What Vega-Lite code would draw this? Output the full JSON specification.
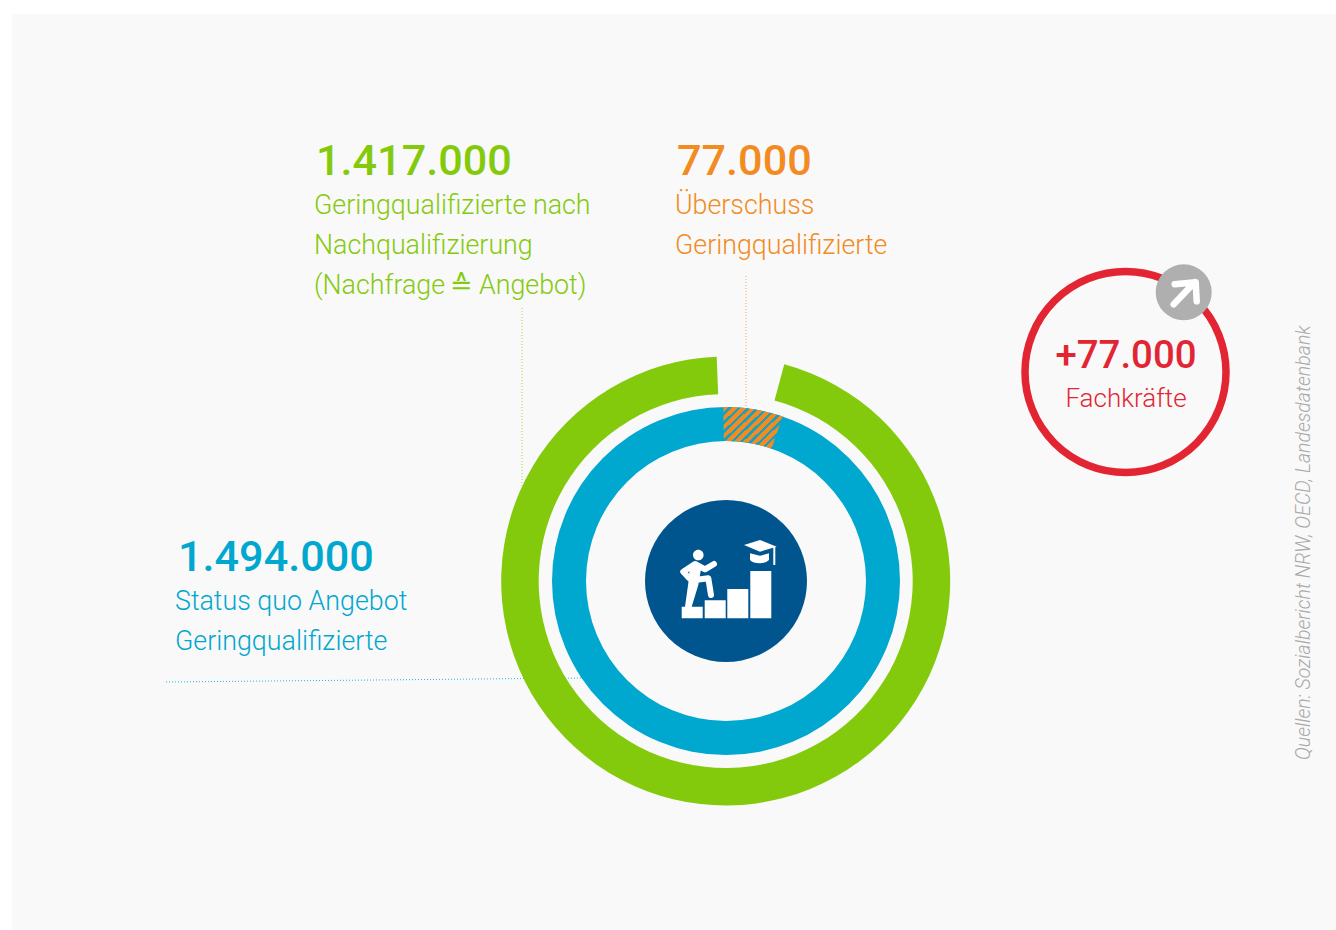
{"$schema":"https://vega.github.io/schema/vega-lite/v6.json","width":1336,"height":930,"padding":0,"autosize":{"type":"fit","contains":"padding"},"background":"#ffffff","config":{"view":{"stroke":null},"axis":{"domain":false}},"resolve":{"scale":{"theta":"independent"}},
"encoding":{"x":{"datum":0,"type":"quantitative","scale":{"domain":[0,1336],"range":[0,1336]},"axis":null},"y":{"datum":0,"type":"quantitative","scale":{"domain":[0,930],"range":[0,930]},"axis":null}},
"layer":[
{"data":{"values":[{"name":"Hintergrund"}]},"mark":{"type":"rect","color":"#f9f9f9"},"encoding":{"x":{"datum":12,"type":"quantitative"},"x2":{"datum":1336},"y":{"datum":14,"type":"quantitative"},"y2":{"datum":930}}},
{"data":{"values":[{"name":"Leitlinie Nachfrage"}]},"mark":{"type":"rule","color":"#9fd64a","strokeWidth":1,"strokeDash":[1,2]},"encoding":{"x":{"datum":522,"type":"quantitative"},"y":{"datum":308,"type":"quantitative"},"y2":{"datum":486}}},
{"data":{"values":[{"name":"Leitlinie Überschuss"}]},"mark":{"type":"rule","color":"#f5a55c","strokeWidth":1,"strokeDash":[1,2]},"encoding":{"x":{"datum":746,"type":"quantitative"},"y":{"datum":276,"type":"quantitative"},"y2":{"datum":406}}},
{"data":{"values":[{"name":"Leitlinie Angebot"}]},"mark":{"type":"rule","color":"#1fb3d8","strokeWidth":1,"strokeDash":[1,2]},"encoding":{"x":{"datum":166,"type":"quantitative"},"x2":{"datum":584},"y":{"datum":682,"type":"quantitative"},"y2":{"datum":678}}},
{"data":{"values":[{"name":"Nachfrage nach Nachqualifizierung","value":1417000}]},"mark":{"type":"arc","color":"#84ca0c","radius":224.5,"radius2":187},"encoding":{"x":{"datum":725.7,"type":"quantitative"},"y":{"datum":581,"type":"quantitative"},"theta":{"field":"value","type":"quantitative","stack":true,"scale":{"domain":[0,1417000],"range":[0.264,6.243]}}}},
{"data":{"values":[{"name":"Status quo Angebot","value":1494000}]},"mark":{"type":"arc","color":"#00a7cf","radius":174,"radius2":140},"encoding":{"x":{"datum":726,"type":"quantitative"},"y":{"datum":581,"type":"quantitative"},"theta":{"field":"value","type":"quantitative","stack":true,"scale":{"domain":[0,1494000],"range":[0,6.2832]}}}},
{"data":{"values":[{"name":"Überschuss","value":77000}]},"mark":{"type":"arc","radius":174,"radius2":140,"color":{"gradient":"linear","x1":0,"y1":0,"x2":1.129,"y2":0.823,"stops":[{"offset":0,"color":"#f28b22"},{"offset":0.056,"color":"#f28b22"},{"offset":0.056,"color":"#1f9fb8"},{"offset":0.0909,"color":"#1f9fb8"},{"offset":0.0909,"color":"#f28b22"},{"offset":0.147,"color":"#f28b22"},{"offset":0.147,"color":"#1f9fb8"},{"offset":0.1818,"color":"#1f9fb8"},{"offset":0.1818,"color":"#f28b22"},{"offset":0.238,"color":"#f28b22"},{"offset":0.238,"color":"#1f9fb8"},{"offset":0.2727,"color":"#1f9fb8"},{"offset":0.2727,"color":"#f28b22"},{"offset":0.329,"color":"#f28b22"},{"offset":0.329,"color":"#1f9fb8"},{"offset":0.3636,"color":"#1f9fb8"},{"offset":0.3636,"color":"#f28b22"},{"offset":0.42,"color":"#f28b22"},{"offset":0.42,"color":"#1f9fb8"},{"offset":0.4545,"color":"#1f9fb8"},{"offset":0.4545,"color":"#f28b22"},{"offset":0.511,"color":"#f28b22"},{"offset":0.511,"color":"#1f9fb8"},{"offset":0.5455,"color":"#1f9fb8"},{"offset":0.5455,"color":"#f28b22"},{"offset":0.602,"color":"#f28b22"},{"offset":0.602,"color":"#1f9fb8"},{"offset":0.6364,"color":"#1f9fb8"},{"offset":0.6364,"color":"#f28b22"},{"offset":0.693,"color":"#f28b22"},{"offset":0.693,"color":"#1f9fb8"},{"offset":0.7273,"color":"#1f9fb8"},{"offset":0.7273,"color":"#f28b22"},{"offset":0.784,"color":"#f28b22"},{"offset":0.784,"color":"#1f9fb8"},{"offset":0.8182,"color":"#1f9fb8"},{"offset":0.8182,"color":"#f28b22"},{"offset":0.875,"color":"#f28b22"},{"offset":0.875,"color":"#1f9fb8"},{"offset":0.9091,"color":"#1f9fb8"},{"offset":0.9091,"color":"#f28b22"},{"offset":0.965,"color":"#f28b22"},{"offset":0.965,"color":"#1f9fb8"},{"offset":1,"color":"#1f9fb8"}]}},"encoding":{"x":{"datum":726,"type":"quantitative"},"y":{"datum":581,"type":"quantitative"},"theta":{"field":"value","type":"quantitative","stack":true,"scale":{"domain":[0,77000],"range":[-0.0157,0.3316]}}}},
{"data":{"values":[{"name":"Icon"}]},"mark":{"type":"point","shape":"circle","filled":true,"fill":"#00558f","opacity":1,"size":26244,"strokeWidth":0},"encoding":{"x":{"datum":726,"type":"quantitative"},"y":{"datum":581,"type":"quantitative"}}},
{"data":{"values":[{"name":"Icon Treppe und Hut"}]},"mark":{"type":"point","shape":"M-44.3 25.7H-23.3V37.3H-44.3Z M-21.3 19.3H-0.3V37.3H-21.3Z M1.3 8H22.3V37.3H1.3Z M24.3 -10H45.3V37.3H24.3Z M-36 -16H-24.3L-27.7 4L-34.3 25.7H-41L-37.7 2.3Z M-33 -26A5.3 5.3 0 1 1 -22.4 -26A5.3 5.3 0 1 1 -33 -26Z M18 -36L34 -41L50.7 -34.3L34 -29.3Z M24 -27.7L34 -25.3L43 -27.7V-21Q40 -17.7 34 -17.7Q27 -17.7 24 -21Z M47.3 -34.5H49.3V-16H47.3Z","filled":true,"fill":"#ffffff","opacity":1,"size":4,"strokeWidth":0},"encoding":{"x":{"datum":726,"type":"quantitative"},"y":{"datum":581,"type":"quantitative"}}},
{"data":{"values":[{"name":"Icon Arme und Bein"}]},"mark":{"type":"point","shape":"M-36.7 -2.7L-42.7 -9.3L-31 -17L-21 -11.7L-12 -17 M-31 -1L-17.7 -2.7L-15 14","filled":false,"stroke":"#ffffff","opacity":1,"size":4,"strokeWidth":6,"strokeCap":"round","strokeJoin":"round"},"encoding":{"x":{"datum":726,"type":"quantitative"},"y":{"datum":581,"type":"quantitative"}}},
{"data":{"values":[{"name":"Fachkräfte Ring"}]},"mark":{"type":"point","shape":"circle","filled":false,"stroke":"#e32533","opacity":1,"size":40401,"strokeWidth":7.5},"encoding":{"x":{"datum":1125.5,"type":"quantitative"},"y":{"datum":372,"type":"quantitative"}}},
{"data":{"values":[{"name":"Pfeil Kreis"}]},"mark":{"type":"point","shape":"circle","filled":true,"fill":"#afafaf","opacity":1,"size":3136,"strokeWidth":0},"encoding":{"x":{"datum":1183.7,"type":"quantitative"},"y":{"datum":292.3,"type":"quantitative"}}},
{"data":{"values":[{"name":"Pfeil"}]},"mark":{"type":"point","shape":"M-10 12L11 -10 M-9 -8L12 -10L13 9","filled":false,"stroke":"#ffffff","opacity":1,"size":4,"strokeWidth":6.5,"strokeCap":"round","strokeJoin":"round"},"encoding":{"x":{"datum":1183.7,"type":"quantitative"},"y":{"datum":292.3,"type":"quantitative"}}},
{"data":{"values":[{"t":"1.417.000"}]},"mark":{"type":"text","baseline":"alphabetic","align":"left","font":"Roboto","fontWeight":500,"fontSize":43.2,"color":"#84ca0c"},"encoding":{"x":{"datum":316,"type":"quantitative"},"y":{"datum":174.5,"type":"quantitative"},"text":{"field":"t"}}},
{"data":{"values":[{"t":"Geringqualifizierte nach\nNachqualifizierung\n(Nachfrage\u2009≙\u2009Angebot)"}]},"mark":{"type":"text","baseline":"alphabetic","align":"left","lineBreak":"\n","lineHeight":40,"font":"Roboto","fontWeight":300,"fontSize":26.8,"color":"#84ca0c"},"encoding":{"x":{"datum":314,"type":"quantitative"},"y":{"datum":214,"type":"quantitative"},"text":{"field":"t"}}},
{"data":{"values":[{"t":"77.000"}]},"mark":{"type":"text","baseline":"alphabetic","align":"left","font":"Roboto","fontWeight":500,"fontSize":43.2,"color":"#f28b22"},"encoding":{"x":{"datum":677,"type":"quantitative"},"y":{"datum":174.5,"type":"quantitative"},"text":{"field":"t"}}},
{"data":{"values":[{"t":"Überschuss\nGeringqualifizierte"}]},"mark":{"type":"text","baseline":"alphabetic","align":"left","lineBreak":"\n","lineHeight":40,"font":"Roboto","fontWeight":300,"fontSize":26.8,"color":"#f28b22"},"encoding":{"x":{"datum":675,"type":"quantitative"},"y":{"datum":214,"type":"quantitative"},"text":{"field":"t"}}},
{"data":{"values":[{"t":"1.494.000"}]},"mark":{"type":"text","baseline":"alphabetic","align":"left","font":"Roboto","fontWeight":500,"fontSize":43.2,"color":"#00a7cf"},"encoding":{"x":{"datum":178,"type":"quantitative"},"y":{"datum":570.5,"type":"quantitative"},"text":{"field":"t"}}},
{"data":{"values":[{"t":"Status quo Angebot\nGeringqualifizierte"}]},"mark":{"type":"text","baseline":"alphabetic","align":"left","lineBreak":"\n","lineHeight":40,"font":"Roboto","fontWeight":300,"fontSize":26.8,"color":"#00a7cf"},"encoding":{"x":{"datum":175,"type":"quantitative"},"y":{"datum":610,"type":"quantitative"},"text":{"field":"t"}}},
{"data":{"values":[{"t":"+77.000"}]},"mark":{"type":"text","baseline":"alphabetic","align":"center","font":"Roboto","fontWeight":500,"fontSize":38.4,"color":"#e32533"},"encoding":{"x":{"datum":1126,"type":"quantitative"},"y":{"datum":368,"type":"quantitative"},"text":{"field":"t"}}},
{"data":{"values":[{"t":"Fachkräfte"}]},"mark":{"type":"text","baseline":"alphabetic","align":"center","font":"Roboto","fontWeight":300,"fontSize":26,"color":"#e32533"},"encoding":{"x":{"datum":1126,"type":"quantitative"},"y":{"datum":407,"type":"quantitative"},"text":{"field":"t"}}},
{"data":{"values":[{"t":"Quellen: Sozialbericht NRW, OECD, Landesdatenbank"}]},"mark":{"type":"text","baseline":"alphabetic","align":"left","angle":270,"font":"Roboto","fontStyle":"italic","fontWeight":300,"fontSize":19.5,"color":"#a9a9a9"},"encoding":{"x":{"datum":1310,"type":"quantitative"},"y":{"datum":760,"type":"quantitative"},"text":{"field":"t"}}}
]}
